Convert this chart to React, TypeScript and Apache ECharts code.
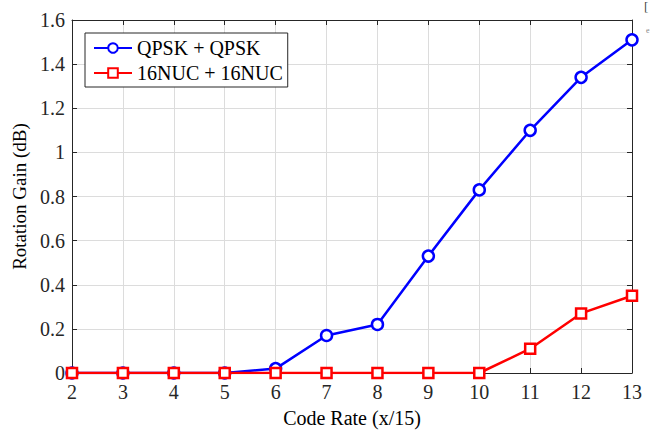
import React, { useEffect, useRef } from "react";
import * as echarts from "echarts";

const codeRates = [2, 3, 4, 5, 6, 7, 8, 9, 10, 11, 12, 13];
const qpskGain = [0, 0, 0, 0, 0.02, 0.17, 0.22, 0.53, 0.83, 1.1, 1.34, 1.51];
const nucGain = [0, 0, 0, 0, 0, 0, 0, 0, 0, 0.11, 0.27, 0.35];
const seriesNames = ["QPSK + QPSK", "16NUC + 16NUC"];

const FONT = "'Liberation Serif', 'Times New Roman', serif";

export default function App() {
  const ref = useRef<HTMLDivElement>(null);
  useEffect(() => {
    const chart = echarts.init(ref.current!, null, { renderer: "svg" });
    const axisCommon = {
      type: "value" as const,
      axisLine: { show: true, onZero: false, lineStyle: { color: "#262626", width: 1 } },
      axisTick: { show: true, inside: true, length: 5, lineStyle: { color: "#262626" } },
      splitLine: { show: false },
    };
    chart.setOption({
      animation: false,
      backgroundColor: "#ffffff",
      grid: { left: 72, top: 20, right: 39, bottom: 58, containLabel: false, outerBoundsMode: "none" },
      legend: {
        left: 85,
        top: 33,
        orient: "vertical",
        backgroundColor: "#ffffff",
        borderColor: "#262626",
        borderWidth: 1,
        padding: [5, 5, 4, 8],
        itemGap: 5,
        itemWidth: 38,
        itemHeight: 12,
        borderRadius: 0,
        textStyle: { fontFamily: FONT, fontSize: 20, color: "#000" },
        data: seriesNames,
      },
      xAxis: [
        {
          ...axisCommon,
          min: 2,
          max: 13,
          interval: 1,
          position: "bottom",
          name: "Code Rate (x/15)",
          nameLocation: "middle",
          nameGap: 35,
          nameTextStyle: { fontFamily: FONT, fontSize: 20, color: "#000" },
          axisLabel: { fontFamily: FONT, fontSize: 20, color: "#262626", margin: 9 },
          splitLine: { show: true, lineStyle: { color: "#dcdcdc", width: 1 } },
        },
        {
          ...axisCommon,
          min: 2,
          max: 13,
          interval: 1,
          position: "top",
          axisLabel: { show: false },
        },
      ],
      yAxis: [
        {
          ...axisCommon,
          min: 0,
          max: 1.6,
          interval: 0.2,
          position: "left",
          name: "Rotation Gain (dB)",
          nameLocation: "middle",
          nameGap: 38,
          nameTextStyle: { fontFamily: FONT, fontSize: 19, color: "#000" },
          axisLabel: { fontFamily: FONT, fontSize: 20, color: "#262626", margin: 7 },
          splitLine: { show: true, lineStyle: { color: "#dcdcdc", width: 1 } },
        },
        {
          ...axisCommon,
          min: 0,
          max: 1.6,
          interval: 0.2,
          position: "right",
          axisLabel: { show: false },
        },
      ],
      series: [
        {
          name: seriesNames[0],
          type: "line",
          data: codeRates.map((x, i) => [x, qpskGain[i]]),
          symbol: "circle",
          symbolSize: 11,
          showAllSymbol: true,
          lineStyle: { color: "#0000ff", width: 2.5 },
          itemStyle: { color: "#ffffff", borderColor: "#0000ff", borderWidth: 2.5 },
          color: "#0000ff",
          z: 2,
        },
        {
          name: seriesNames[1],
          type: "line",
          data: codeRates.map((x, i) => [x, nucGain[i]]),
          symbol: "rect",
          symbolSize: 10,
          showAllSymbol: true,
          lineStyle: { color: "#ff0000", width: 2.5 },
          itemStyle: { color: "#ffffff", borderColor: "#ff0000", borderWidth: 2.5 },
          color: "#ff0000",
          z: 3,
        },
      ],
      graphic: [
        { type: "text", left: 644, top: 0, style: { text: "[", fontFamily: FONT, fontSize: 13, fill: "#444" } },
        { type: "text", left: 646, top: 26, style: { text: "e", fontFamily: FONT, fontSize: 8, fill: "#888" } },
      ],
    });
    return () => chart.dispose();
  }, []);
  return (
    <div
      ref={ref}
      style={{ position: "absolute", left: 0, top: 0, width: 671, height: 431 }}
    />
  );
}
